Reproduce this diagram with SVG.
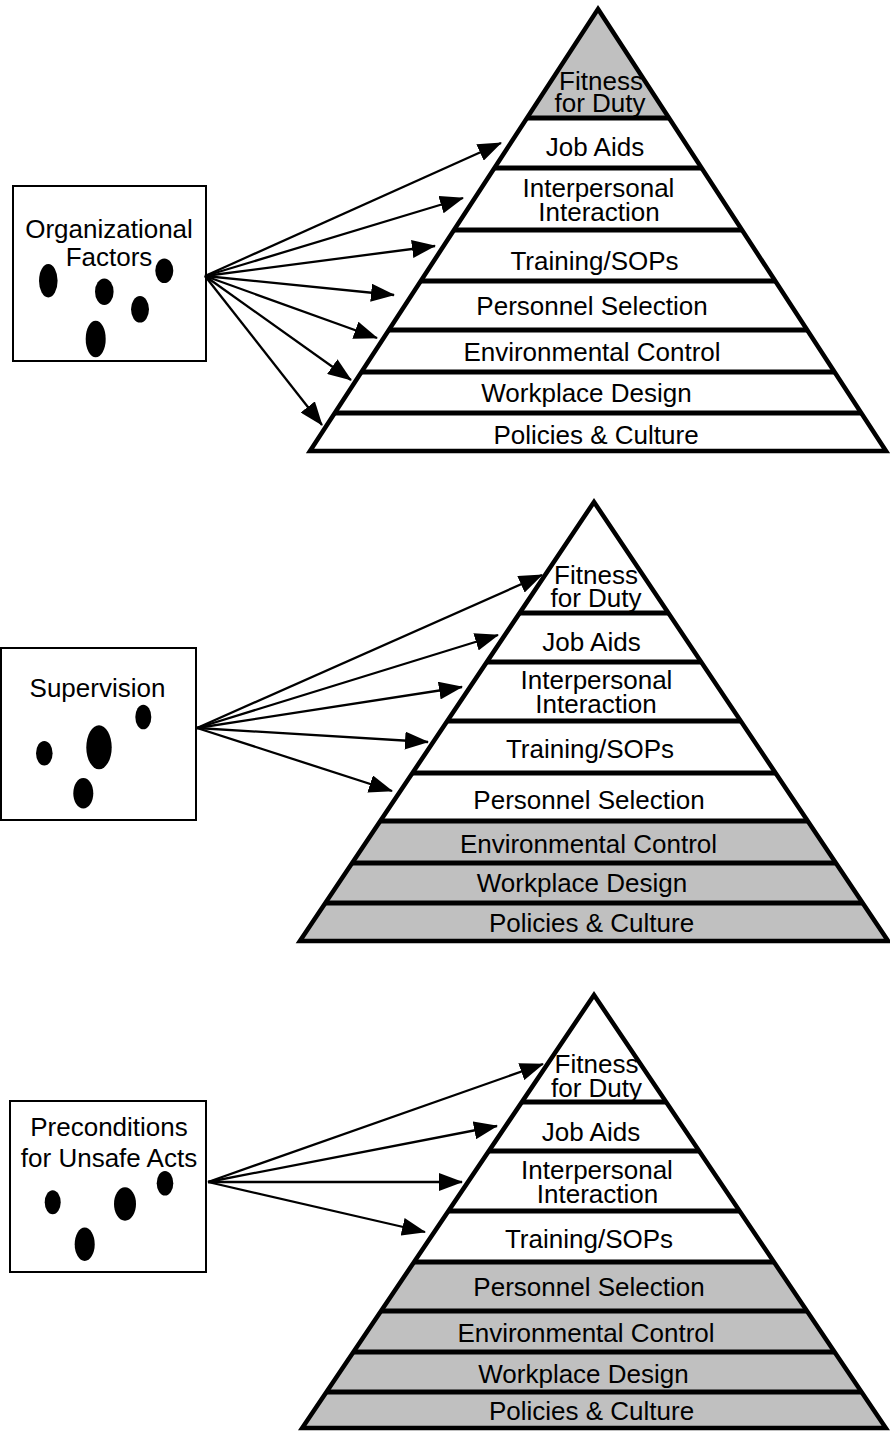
<svg xmlns="http://www.w3.org/2000/svg" width="890" height="1435" viewBox="0 0 890 1435">
<style>
.bg{fill:#fff}
.g{fill:#c0c0c0;stroke:none}
.w{fill:#fff;stroke:none}
.sep{stroke:#000;stroke-width:5}
.outline{fill:none;stroke:#000;stroke-width:4.5;stroke-linejoin:miter}
.lbl{font-family:"Liberation Sans",Arial,sans-serif;font-size:26px;text-anchor:middle;fill:#000}
.box{fill:#fff;stroke:#000;stroke-width:2}
.dot{fill:#000}
.conn line{stroke:#000;stroke-width:2.3;marker-end:url(#ah)}
</style>
<defs>
<marker id="ah" markerUnits="userSpaceOnUse" markerWidth="24" markerHeight="18" refX="23" refY="9" orient="auto">
<path d="M0,0 L24,9 L0,18 z" fill="#000"/>
</marker>
</defs>
<rect class="bg" x="0" y="0" width="890" height="1435"/>

<!-- Top pyramid -->
<g id="pyramid-top">
<g id="top-fitness"><polygon class="g" points="598,9 669,118 527,118"/><text class="lbl" x="601" y="90">Fitness</text><text class="lbl" x="600" y="112">for Duty</text></g>
<g id="top-jobaids"><polygon class="w" points="527,118 669,118 701.6,168 494.4,168"/><text class="lbl" x="595" y="156">Job Aids</text></g>
<g id="top-interpersonal"><polygon class="w" points="494.4,168 701.6,168 742,230 454,230"/><text class="lbl" x="598.5" y="197">Interpersonal</text><text class="lbl" x="599" y="221">Interaction</text></g>
<g id="top-training"><polygon class="w" points="454,230 742,230 775.2,281 420.8,281"/><text class="lbl" x="594.5" y="270">Training/SOPs</text></g>
<g id="top-personnel"><polygon class="w" points="420.8,281 775.2,281 807.2,330 388.8,330"/><text class="lbl" x="592" y="315">Personnel Selection</text></g>
<g id="top-environmental"><polygon class="w" points="388.8,330 807.2,330 834.5,372 361.5,372"/><text class="lbl" x="592" y="361">Environmental Control</text></g>
<g id="top-workplace"><polygon class="w" points="361.5,372 834.5,372 861.2,413 334.8,413"/><text class="lbl" x="586.5" y="402">Workplace Design</text></g>
<g id="top-policies"><polygon class="w" points="334.8,413 861.2,413 886,451 310,451"/><text class="lbl" x="596" y="444">Policies &amp; Culture</text></g>
<line class="sep" x1="527" y1="118" x2="669" y2="118"/>
<line class="sep" x1="494.4" y1="168" x2="701.6" y2="168"/>
<line class="sep" x1="454" y1="230" x2="742" y2="230"/>
<line class="sep" x1="420.8" y1="281" x2="775.2" y2="281"/>
<line class="sep" x1="388.8" y1="330" x2="807.2" y2="330"/>
<line class="sep" x1="361.5" y1="372" x2="834.5" y2="372"/>
<line class="sep" x1="334.8" y1="413" x2="861.2" y2="413"/>
<polygon class="outline" points="598,9 886,451 310,451"/>
</g>

<!-- Middle pyramid -->
<g id="pyramid-mid">
<g id="mid-fitness"><polygon class="w" points="594,502 668.4,613 519.6,613"/><text class="lbl" x="596" y="584">Fitness</text><text class="lbl" x="596" y="607">for Duty</text></g>
<g id="mid-jobaids"><polygon class="w" points="519.6,613 668.4,613 701.2,662 486.8,662"/><text class="lbl" x="591.5" y="651">Job Aids</text></g>
<g id="mid-interpersonal"><polygon class="w" points="486.8,662 701.2,662 740.7,721 447.3,721"/><text class="lbl" x="596.5" y="689">Interpersonal</text><text class="lbl" x="596" y="713">Interaction</text></g>
<g id="mid-training"><polygon class="w" points="447.3,721 740.7,721 775.6,773 412.4,773"/><text class="lbl" x="590" y="758">Training/SOPs</text></g>
<g id="mid-personnel"><polygon class="w" points="412.4,773 775.6,773 807.7,821 380.3,821"/><text class="lbl" x="589" y="809">Personnel Selection</text></g>
<g id="mid-environmental"><polygon class="g" points="380.3,821 807.7,821 835.9,863 352.1,863"/><text class="lbl" x="588.5" y="853">Environmental Control</text></g>
<g id="mid-workplace"><polygon class="g" points="352.1,863 835.9,863 862.7,903 325.3,903"/><text class="lbl" x="582" y="892">Workplace Design</text></g>
<g id="mid-policies"><polygon class="g" points="325.3,903 862.7,903 888.1,941 299.9,941"/><text class="lbl" x="591.5" y="932">Policies &amp; Culture</text></g>
<line class="sep" x1="519.6" y1="613" x2="668.4" y2="613"/>
<line class="sep" x1="486.8" y1="662" x2="701.2" y2="662"/>
<line class="sep" x1="447.3" y1="721" x2="740.7" y2="721"/>
<line class="sep" x1="412.4" y1="773" x2="775.6" y2="773"/>
<line class="sep" x1="380.3" y1="821" x2="807.7" y2="821"/>
<line class="sep" x1="352.1" y1="863" x2="835.9" y2="863"/>
<line class="sep" x1="325.3" y1="903" x2="862.7" y2="903"/>
<polygon class="outline" points="594,502 888.1,941 299.9,941"/>
</g>

<!-- Bottom pyramid -->
<g id="pyramid-bot">
<g id="bot-fitness"><polygon class="w" points="594,995 666.1,1102 521.9,1102"/><text class="lbl" x="596.5" y="1073">Fitness</text><text class="lbl" x="596.5" y="1097">for Duty</text></g>
<g id="bot-jobaids"><polygon class="w" points="521.9,1102 666.1,1102 699.2,1151 488.8,1151"/><text class="lbl" x="591" y="1141">Job Aids</text></g>
<g id="bot-interpersonal"><polygon class="w" points="488.8,1151 699.2,1151 739.6,1211 448.4,1211"/><text class="lbl" x="597" y="1179">Interpersonal</text><text class="lbl" x="597.5" y="1203">Interaction</text></g>
<g id="bot-training"><polygon class="w" points="448.4,1211 739.6,1211 774,1262 414,1262"/><text class="lbl" x="589" y="1248">Training/SOPs</text></g>
<g id="bot-personnel"><polygon class="g" points="414,1262 774,1262 807,1311 381,1311"/><text class="lbl" x="589" y="1296">Personnel Selection</text></g>
<g id="bot-environmental"><polygon class="g" points="381,1311 807,1311 834.6,1352 353.4,1352"/><text class="lbl" x="586" y="1342">Environmental Control</text></g>
<g id="bot-workplace"><polygon class="g" points="353.4,1352 834.6,1352 861.6,1392 326.4,1392"/><text class="lbl" x="583.5" y="1383">Workplace Design</text></g>
<g id="bot-policies"><polygon class="g" points="326.4,1392 861.6,1392 885.8,1428 302.2,1428"/><text class="lbl" x="591.5" y="1420">Policies &amp; Culture</text></g>
<line class="sep" x1="521.9" y1="1102" x2="666.1" y2="1102"/>
<line class="sep" x1="488.8" y1="1151" x2="699.2" y2="1151"/>
<line class="sep" x1="448.4" y1="1211" x2="739.6" y2="1211"/>
<line class="sep" x1="414" y1="1262" x2="774" y2="1262"/>
<line class="sep" x1="381" y1="1311" x2="807" y2="1311"/>
<line class="sep" x1="353.4" y1="1352" x2="834.6" y2="1352"/>
<line class="sep" x1="326.4" y1="1392" x2="861.6" y2="1392"/>
<polygon class="outline" points="594,995 885.8,1428 302.2,1428"/>
</g>

<!-- Source boxes -->
<g id="box-organizational">
<rect class="box" x="13" y="186" width="193" height="175"/>
<text class="lbl" x="109" y="238">Organizational</text>
<text class="lbl" x="109" y="266">Factors</text>
<ellipse class="dot" cx="48.3" cy="280.7" rx="9.3" ry="16.7"/>
<ellipse class="dot" cx="164.3" cy="270.7" rx="9" ry="12.3"/>
<ellipse class="dot" cx="104.3" cy="291.7" rx="9.3" ry="13.3"/>
<ellipse class="dot" cx="140" cy="309.3" rx="9" ry="13.3"/>
<ellipse class="dot" cx="95.7" cy="339" rx="10" ry="18.3"/>
</g>
<g id="box-supervision">
<rect class="box" x="1" y="648" width="195" height="172"/>
<text class="lbl" x="97.5" y="697">Supervision</text>
<ellipse class="dot" cx="44.3" cy="753.3" rx="8.3" ry="12.3"/>
<ellipse class="dot" cx="99" cy="747.3" rx="12.7" ry="22"/>
<ellipse class="dot" cx="143.3" cy="717" rx="8" ry="12.3"/>
<ellipse class="dot" cx="83.3" cy="793.3" rx="10" ry="15.3"/>
</g>
<g id="box-preconditions">
<rect class="box" x="10" y="1101" width="196" height="171"/>
<text class="lbl" x="109" y="1136">Preconditions</text>
<text class="lbl" x="109" y="1167">for Unsafe Acts</text>
<ellipse class="dot" cx="52.7" cy="1202.3" rx="8" ry="12"/>
<ellipse class="dot" cx="125" cy="1204" rx="11" ry="16.7"/>
<ellipse class="dot" cx="165" cy="1183.3" rx="8.3" ry="12.3"/>
<ellipse class="dot" cx="84.7" cy="1244.3" rx="10" ry="16.7"/>
</g>

<!-- Connectors -->
<g id="connectors" class="conn">
<line x1="205" y1="276" x2="501" y2="143"/>
<line x1="205" y1="276" x2="463" y2="198"/>
<line x1="205" y1="276" x2="435" y2="246"/>
<line x1="205" y1="276" x2="394" y2="295"/>
<line x1="205" y1="276" x2="377" y2="338"/>
<line x1="205" y1="276" x2="351" y2="380"/>
<line x1="205" y1="276" x2="322" y2="425"/>
<line x1="197" y1="728" x2="542" y2="575"/>
<line x1="197" y1="728" x2="498" y2="635"/>
<line x1="197" y1="728" x2="462" y2="687"/>
<line x1="197" y1="728" x2="428" y2="742"/>
<line x1="197" y1="728" x2="392" y2="791"/>
<line x1="208" y1="1182" x2="543" y2="1064"/>
<line x1="208" y1="1182" x2="497" y2="1126"/>
<line x1="208" y1="1182" x2="462" y2="1182"/>
<line x1="208" y1="1182" x2="425" y2="1232"/>
</g>
</svg>
